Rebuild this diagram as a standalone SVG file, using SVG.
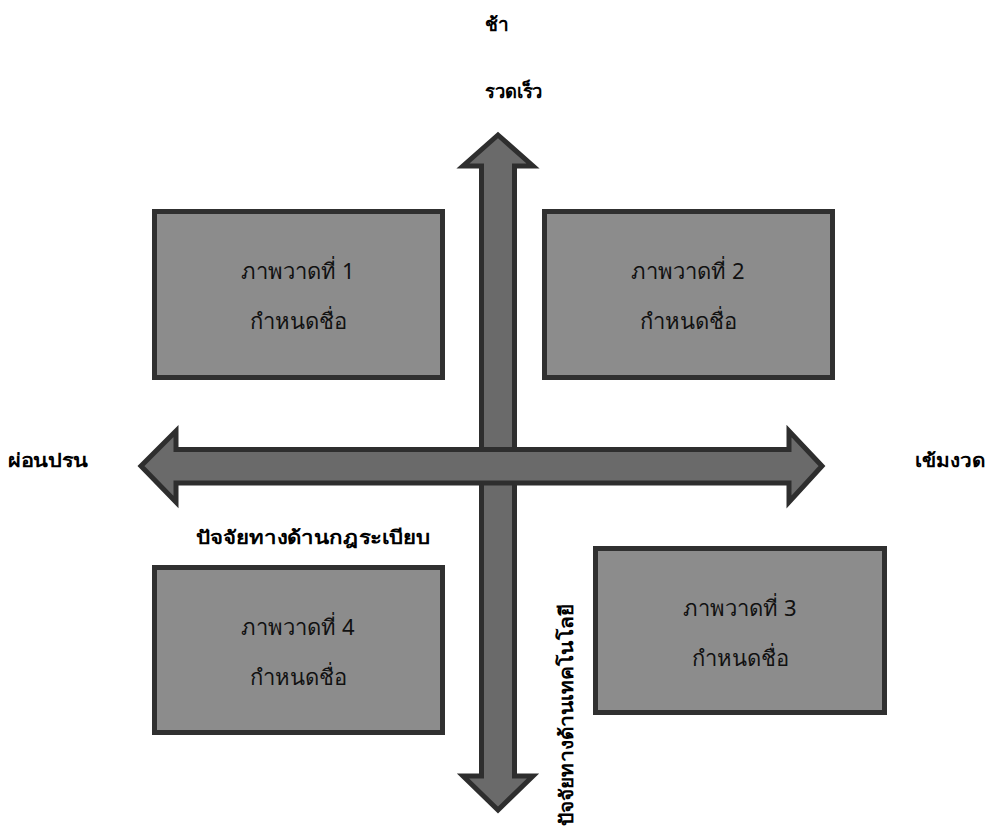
<svg xmlns="http://www.w3.org/2000/svg" width="988" height="827" viewBox="0 0 988 827">
<style>
.box{fill:#8c8c8c;stroke:#303030;stroke-width:5}
.arrow{fill:#6a6a6a;stroke:#2e2e2e;stroke-width:5;stroke-linejoin:miter}
.lbl{font-family:"Noto Sans","DejaVu Sans",sans-serif;font-size:19px;font-weight:bold;fill:#000}
.txt{font-family:"Noto Sans","DejaVu Sans",sans-serif;font-size:22px;fill:#111;text-anchor:middle}
</style>
<rect width="988" height="827" fill="#fff"/>
<g id="connectors">
<path id="v-arrow" class="arrow" d="M498,135 L533,166 L514.5,166 L514.5,776 L533,776 L498,810 L463,776 L481.5,776 L481.5,166 L463,166 Z"/>
<path id="h-arrow" class="arrow" d="M141,466 L176,431 L176,449.5 L789,449.5 L789,431 L822,466 L789,502 L789,483 L176,483 L176,502 Z"/>
</g>
<g id="node1">
<rect class="box" x="154.5" y="211.5" width="288" height="166"/>
<text class="txt" x="298" y="279">ภาพวาดที่ 1</text>
<text class="txt" x="298" y="329">กำหนดชื่อ</text>
</g>
<g id="node2">
<rect class="box" x="544.5" y="211.5" width="288" height="166"/>
<text class="txt" x="688" y="279">ภาพวาดที่ 2</text>
<text class="txt" x="688" y="329">กำหนดชื่อ</text>
</g>
<g id="node3">
<rect class="box" x="595.5" y="548.5" width="289" height="164"/>
<text class="txt" x="740" y="616">ภาพวาดที่ 3</text>
<text class="txt" x="740" y="666">กำหนดชื่อ</text>
</g>
<g id="node4">
<rect class="box" x="154.5" y="567.5" width="288" height="165"/>
<text class="txt" x="298" y="635">ภาพวาดที่ 4</text>
<text class="txt" x="298" y="685">กำหนดชื่อ</text>
</g>
<g id="labels">
<text class="lbl" x="485" y="31" textLength="24" lengthAdjust="spacingAndGlyphs">ช้า</text>
<text class="lbl" x="485" y="98" textLength="58" lengthAdjust="spacingAndGlyphs">รวดเร็ว</text>
<text class="lbl" x="8" y="467" textLength="80" lengthAdjust="spacingAndGlyphs">ผ่อนปรน</text>
<text class="lbl" x="915" y="467" textLength="70" lengthAdjust="spacingAndGlyphs">เข้มงวด</text>
<text class="lbl" x="196" y="544" textLength="234" lengthAdjust="spacingAndGlyphs">ปัจจัยทางด้านกฎระเบียบ</text>
<text class="lbl" transform="translate(573,826) rotate(-90)" textLength="222" lengthAdjust="spacingAndGlyphs">ปัจจัยทางด้านเทคโนโลยี</text>
</g>
</svg>
